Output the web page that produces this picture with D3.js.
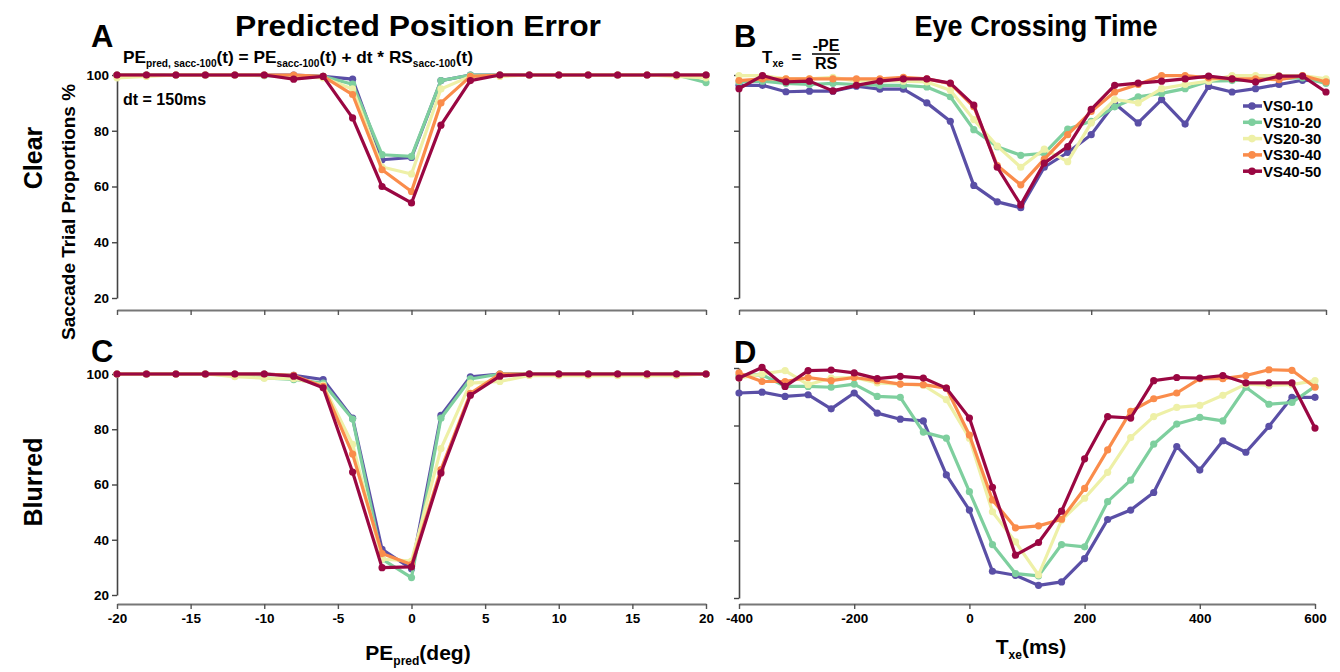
<!DOCTYPE html>
<html>
<head>
<meta charset="utf-8">
<script src="https://cdn.jsdelivr.net/npm/d3@7"></script>
<style>
body{margin:0;background:#fff;}
svg text{font-family:"Liberation Sans",Arial,Helvetica,sans-serif;font-weight:bold;fill:#000;}
</style>
</head>
<body>
<svg id="fig" width="1340" height="672"></svg>
<script>
var series = ["VS0-10","VS10-20","VS20-30","VS30-40","VS40-50"];
var colors = ["#5a4fa6","#7ecf9e","#eef0a7","#fa8c4b","#9a0742"];

// predicted position error (deg)
var peX = [-20,-18,-16,-14,-12,-10,-8,-6,-4,-2,0,2,4,6,8,10,12,14,16,18,20];
// eye crossing time (ms)
var txeX = [-400,-360,-320,-280,-240,-200,-160,-120,-80,-40,0,40,80,120,160,200,240,280,320,360,400,440,480,520,560,600];

var clearPE = [
	[100,100,100,100,100,100,100,99.5,98.5,69.6,70.4,98,100,100,100,100,100,100,100,100,100],
	[100,100,100,100,100,99.8,99.5,99.5,96.7,71.4,70.8,98,100,100,100,100,100,100,100,100,97.3],
	[99,99.5,100,100,100,100,99.5,99,95,67,64.5,95,99.5,99.5,100,100,100,100,100,99.5,99],
	[100,100,100,100,100,100,100,99.5,93,66,58.2,90,99.5,100,100,100,100,100,100,100,100],
	[100,100,100,100,100,100,98.5,99.5,84.6,60,54.1,82,98,100,100,100,100,100,100,100,100]
];
var blurPE = [
	[100,100,100,100,100,100,99.5,98,84,36.5,29.5,85,99,100,100,100,100,100,100,100,100],
	[100,100,100,100,99.5,98.6,98,96.7,83.7,33,26.3,84,98.2,100,100,100,100,100,100,100,100],
	[100,100,100,100,99,98.5,98.3,96,74.5,33,32.3,73,96.7,97.3,99.5,99.4,99.4,99.4,99.4,99.4,100],
	[100,100,100,100,100,100,99.5,95.5,71,35,31,65.4,93,100,100,100,100,100,100,100,100],
	[100,100,100,100,100,100,99.2,95,64.5,29.9,30.2,64.2,92.3,99.2,100,100,100,100,100,100,100]
];
var clearTxe = [
	[96.3,96.3,94,94.2,94.2,96,94.9,94.9,90,83.4,60.4,54.5,52.4,66.9,72.2,78.6,89.8,82.8,91.2,82.4,95.9,93.9,95.1,96.6,98.1,98],
	[97.5,97.8,97,96.6,97,96.6,96.3,96.3,95.7,92.2,80.4,74.3,71.2,71.9,80.6,83.4,88.6,92.2,93.4,95.1,97.8,98,98.5,98.8,99,97],
	[99.8,99.8,98.6,98.6,99.2,97.8,98,97.8,97.5,94.5,84,74.5,66.9,73.4,68.9,82.8,91.2,90,95.1,96.6,97.8,99.8,99.8,99.8,99.8,98.6],
	[98,98.6,98.6,98.6,98.6,98.6,98.6,99.2,98.6,96.9,88.6,67.5,60.6,69.8,78.6,86.9,93.9,96.6,99.8,99.8,99,98.6,98.6,98.3,99.8,97.5],
	[95.1,99.8,97.5,97.8,94.3,96.3,97.8,98.6,98.6,97.1,89.2,66.9,53.4,68.4,74.3,87.7,96.3,97.1,97.8,98.6,99.6,98.6,97.5,99.6,99.6,93.9]
];
var blurTxe = [
	[91.3,91.6,90.1,90.7,85.8,91.3,84.3,82.2,81.6,62.8,50.6,29.3,27.9,24.4,25.6,33.7,47.3,50.6,56.7,72.7,64.5,74.7,70.7,79.7,89.8,89.8],
	[97.4,97.7,93.6,93.6,93.3,94.4,90.1,89.8,77.7,75.6,57,38.6,28.5,27.7,38.6,37.8,53.5,61,73.5,80.5,82.8,81.6,93.3,87.4,88,93.6],
	[96.5,97.9,99.1,94.2,96.5,96.7,94.8,94.4,94,89,75.6,50,39.5,28,47.1,54.7,63.7,75.8,83.1,86.3,87,90.5,94.4,94,94.2,95.6],
	[98.3,95.3,95.3,96.7,95.6,96.7,95.6,94.4,94.2,93,76.7,54.1,44.4,45.1,47.4,58.1,71.5,84.9,89.3,91.3,96.3,96.3,97.4,99.4,99.2,93.3],
	[96.5,100.2,93.6,99.1,99.3,98.3,96.3,97.1,96.5,93,82.6,58.5,34.9,39.3,50.2,68.4,83.1,82.6,95.6,96.7,96.5,97.4,94.8,94.8,94.8,79.1]
];

var yTicks = [20,40,60,80,100];
var peTicks = [-20,-15,-10,-5,0,5,10,15,20];
var txeTicks = [-400,-200,0,200,400,600];

var svg = d3.select("#fig");

// plain hyphen minus like the original labels
function plainNum(d){ return String(d); }

function drawPanel(xs, data, xDomain, xRange, yRange, axisY, xTicks, yLabels, xLabels){
	var x = d3.scaleLinear().domain(xDomain).range(xRange);
	var y = d3.scaleLinear().domain([20,100]).range(yRange);
	var g = svg.append("g");

	var ya = g.append("g")
		.attr("transform", "translate(" + xRange[0] + ",0)")
		.call(d3.axisLeft(y).tickValues(yTicks).tickSize(5).tickSizeOuter(0).tickPadding(3)
			.tickFormat(yLabels ? plainNum : ""));
	ya.select(".domain").attr("stroke", "#444").attr("stroke-width", 1.6);
	ya.selectAll(".tick line").attr("stroke", "#444").attr("stroke-width", 1.4);
	ya.selectAll("text").style("font-size", "13.5px").attr("fill", "#000");

	var xa = g.append("g")
		.attr("transform", "translate(0," + axisY + ")")
		.call(d3.axisBottom(x).tickValues(xTicks).tickSize(5).tickSizeOuter(0).tickPadding(4)
			.tickFormat(xLabels ? plainNum : ""));
	xa.select(".domain").attr("stroke", "#777").attr("stroke-width", 2.2);
	xa.selectAll(".tick line").attr("stroke", "#555").attr("stroke-width", 1.4);
	xa.selectAll("text").style("font-size", "13.5px").attr("fill", "#000");

	var line = d3.line()
		.x(function(d, i){ return x(xs[i]); })
		.y(function(d){ return y(d); });

	for(var s = 0; s < data.length; s++){
		g.append("path")
			.datum(data[s])
			.attr("d", line)
			.attr("fill", "none")
			.attr("stroke", colors[s])
			.attr("stroke-width", 3.2)
			.attr("stroke-linejoin", "round");
		g.selectAll(".pt" + s)
			.data(data[s])
			.enter().append("circle")
			.attr("class", "pt" + s)
			.attr("cx", function(d, i){ return x(xs[i]); })
			.attr("cy", function(d){ return y(d); })
			.attr("r", 3.6)
			.attr("fill", colors[s]);
	}
}

drawPanel(peX, clearPE, [-20,20], [117,706], [298,75], 310, peTicks, true, false);
drawPanel(txeX, clearTxe, [-400,600], [739,1326], [298,75], 310, txeTicks, false, false);
drawPanel(peX, blurPE, [-20,20], [117,706], [595,374], 604, peTicks, true, true);
drawPanel(txeX, blurTxe, [-400,600], [739,1315], [598,368], 604, txeTicks, false, true);

// panel letters and titles
svg.append("text").attr("x", 91).attr("y", 47).text("A").style("font-size", "31px");
svg.append("text").attr("x", 734).attr("y", 47).text("B").style("font-size", "31px");
svg.append("text").attr("x", 91).attr("y", 362).text("C").style("font-size", "31px");
svg.append("text").attr("x", 734).attr("y", 363).text("D").style("font-size", "31px");

svg.append("text").attr("x", 418).attr("y", 36).attr("text-anchor", "middle")
	.attr("textLength", 366).attr("lengthAdjust", "spacingAndGlyphs")
	.style("font-size", "30px").text("Predicted Position Error");
svg.append("text").attr("x", 1036).attr("y", 36).attr("text-anchor", "middle")
	.attr("textLength", 243).attr("lengthAdjust", "spacingAndGlyphs")
	.style("font-size", "30px").text("Eye Crossing Time");

// formula in A
var f = svg.append("text").attr("x", 123).attr("y", 63).style("font-size", "17px")
	.attr("textLength", 350).attr("lengthAdjust", "spacingAndGlyphs");
f.append("tspan").text("PE");
f.append("tspan").attr("dy", 4).style("font-size", "10px").text("pred, sacc-100");
f.append("tspan").attr("dy", -4).text("(t) = PE");
f.append("tspan").attr("dy", 4).style("font-size", "10px").text("sacc-100");
f.append("tspan").attr("dy", -4).text("(t) + dt * RS");
f.append("tspan").attr("dy", 4).style("font-size", "10px").text("sacc-100");
f.append("tspan").attr("dy", -4).text("(t)");

svg.append("text").attr("x", 123).attr("y", 105).style("font-size", "16px").text("dt = 150ms");

// formula in B
var t = svg.append("text").attr("x", 762).attr("y", 63).style("font-size", "17px");
t.append("tspan").text("T");
t.append("tspan").attr("dy", 4).style("font-size", "10px").text("xe");
t.append("tspan").attr("dy", -4).attr("dx", 8).text("=");
svg.append("text").attr("x", 826).attr("y", 51).attr("text-anchor", "middle").style("font-size", "16px").text("-PE");
svg.append("line").attr("x1", 812).attr("x2", 840).attr("y1", 54).attr("y2", 54).attr("stroke", "#000").attr("stroke-width", 1.5);
svg.append("text").attr("x", 826).attr("y", 69).attr("text-anchor", "middle").style("font-size", "16px").text("RS");

// legend
var leg = svg.append("g");
for(var i = 0; i < series.length; i++){
	var ly = 106 + i * 16.3;
	leg.append("line").attr("x1", 1243).attr("x2", 1262).attr("y1", ly).attr("y2", ly)
		.attr("stroke", colors[i]).attr("stroke-width", 3.5);
	leg.append("circle").attr("cx", 1252).attr("cy", ly).attr("r", 3.8).attr("fill", colors[i]);
	leg.append("text").attr("x", 1263).attr("y", ly).attr("dy", "0.36em").style("font-size", "15px").text(series[i]);
}

// axis titles
svg.append("text").attr("transform", "translate(75,212) rotate(-90)").attr("text-anchor", "middle")
	.attr("textLength", 256).attr("lengthAdjust", "spacingAndGlyphs")
	.style("font-size", "19px").text("Saccade Trial Proportions %");
svg.append("text").attr("transform", "translate(42,158) rotate(-90)").attr("text-anchor", "middle")
	.style("font-size", "25px").text("Clear");
svg.append("text").attr("transform", "translate(42,482) rotate(-90)").attr("text-anchor", "middle")
	.style("font-size", "25px").text("Blurred");

var xl = svg.append("text").attr("x", 418).attr("y", 660).attr("text-anchor", "middle").style("font-size", "21px");
xl.append("tspan").text("PE");
xl.append("tspan").attr("dy", 5).style("font-size", "12px").text("pred");
xl.append("tspan").attr("dy", -5).text("(deg)");

var xl2 = svg.append("text").attr("x", 1031).attr("y", 654).attr("text-anchor", "middle").style("font-size", "21px");
xl2.append("tspan").text("T");
xl2.append("tspan").attr("dy", 5).style("font-size", "12px").text("xe");
xl2.append("tspan").attr("dy", -5).text("(ms)");
</script>
</body>
</html>
